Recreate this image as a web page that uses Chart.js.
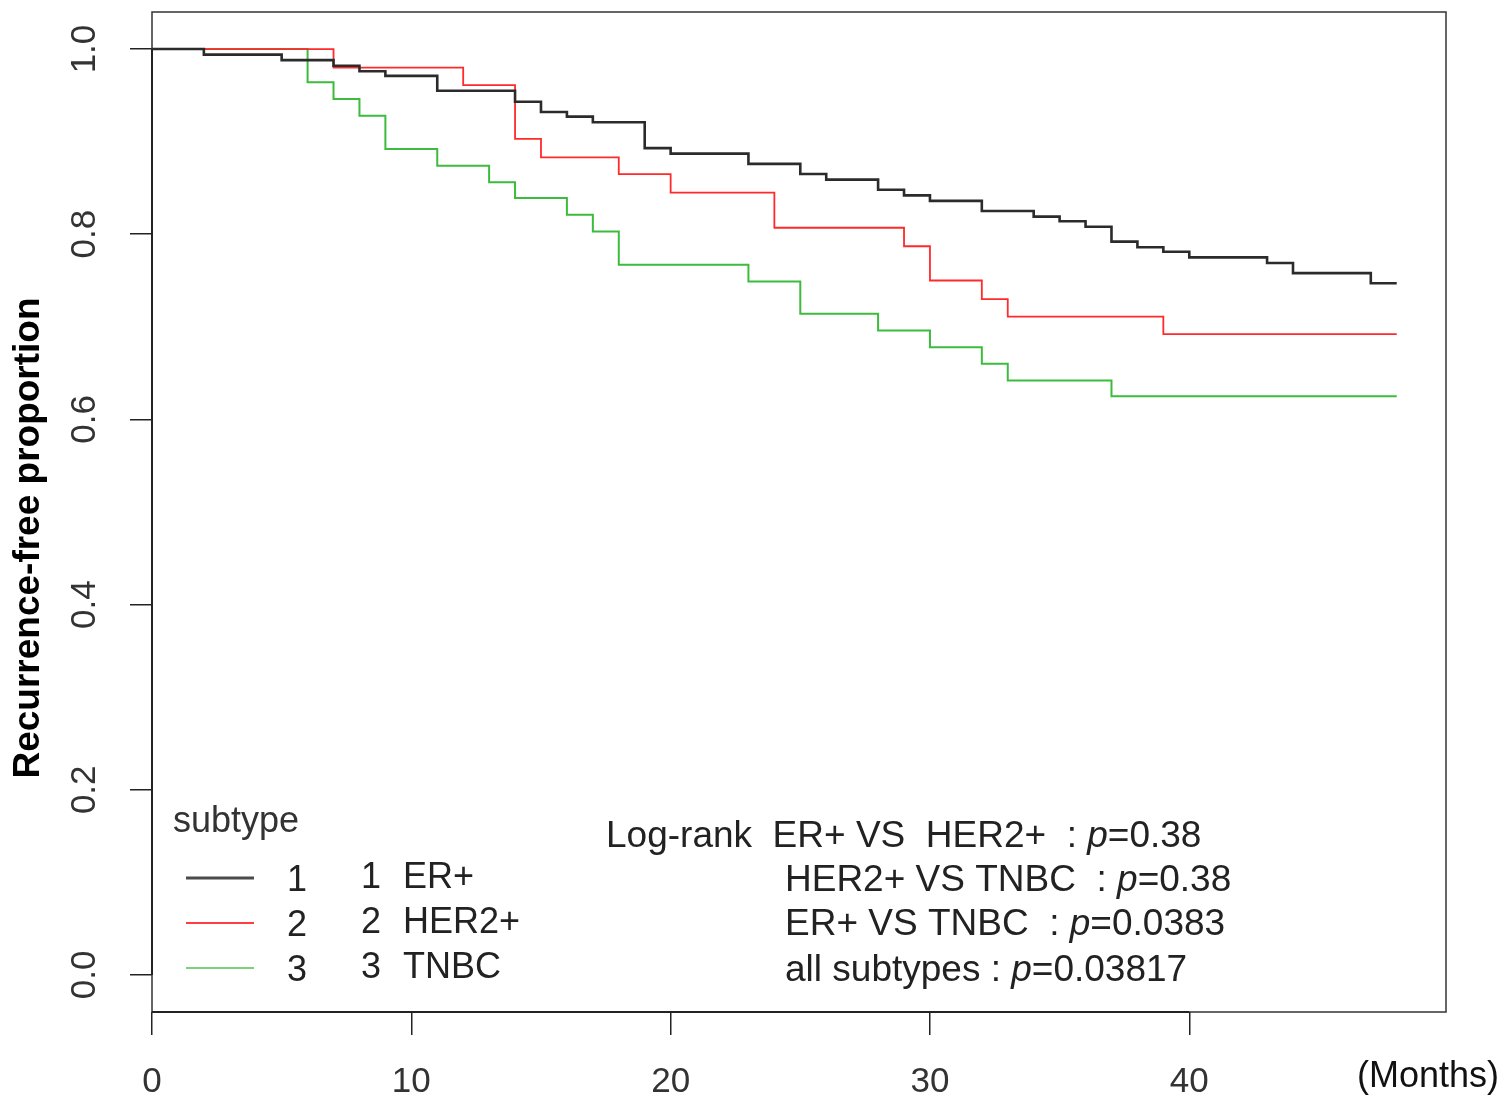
<!DOCTYPE html>
<html>
<head>
<meta charset="utf-8">
<script src="https://cdn.jsdelivr.net/npm/chart.js@4.4.1/dist/chart.umd.min.js"></script>
<style>
  html, body { margin: 0; padding: 0; background: #ffffff; }
  #wrap { width: 1505px; height: 1097px; position: relative; }
</style>
</head>
<body>
<div id="wrap"><canvas id="c" width="1505" height="1097"></canvas></div>
<script>
// ---- Data (Kaplan-Meier steps) ----
const erTimes   = [0, 2, 5, 7, 8, 9, 11, 14, 15, 16, 17, 19, 20, 23, 25, 26, 28, 29, 30, 32, 34, 35, 36, 37, 38, 39, 40, 43, 44, 47, 48];
const erValues  = [1.0, 0.994, 0.988, 0.982, 0.976, 0.971, 0.955, 0.943, 0.932, 0.927, 0.921, 0.893, 0.887, 0.876, 0.865, 0.859, 0.848, 0.842, 0.836, 0.825, 0.819, 0.814, 0.808, 0.792, 0.786, 0.781, 0.775, 0.769, 0.758, 0.747, 0.747];

const herTimes  = [0, 7, 12, 14, 15, 18, 20, 24, 29, 30, 32, 33, 39, 48];
const herValues = [1.0, 0.980, 0.961, 0.903, 0.883, 0.865, 0.845, 0.807, 0.787, 0.750, 0.730, 0.711, 0.692, 0.692];

const tnTimes   = [0, 6, 7, 8, 9, 11, 13, 14, 16, 17, 18, 23, 25, 28, 30, 32, 33, 37, 48];
const tnValues  = [1.0, 0.964, 0.946, 0.928, 0.892, 0.874, 0.856, 0.839, 0.821, 0.803, 0.767, 0.749, 0.714, 0.696, 0.678, 0.660, 0.642, 0.625, 0.625];

const seriesNames = ['1  ER+', '2  HER2+', '3  TNBC'];
const xTicks = [0, 10, 20, 30, 40];
const yTicks = [0.0, 0.2, 0.4, 0.6, 0.8, 1.0];
const yTickLabels = ['0.0', '0.2', '0.4', '0.6', '0.8', '1.0'];
const statLines = [
  ['Log-rank  ER+ VS  HER2+  : ', '0.38'],
  ['HER2+ VS TNBC  : ', '0.38'],
  ['ER+ VS TNBC  : ', '0.0383'],
  ['all subtypes : ', '0.03817']
];

const colors = ['#2b2b2b', '#ff2a2a', '#3dbb3d'];
const FONT = "'Liberation Sans', Arial, Helvetica, sans-serif";

function pts(t, v) { return t.map((x, i) => ({ x: x, y: v[i] })); }

const annot = {
  id: 'annot',
  afterDraw(chart) {
    const ctx = chart.ctx;
    const a = chart.chartArea;
    const xs = chart.scales.x, ys = chart.scales.y;
    ctx.save();
    // box
    ctx.strokeStyle = '#333';
    ctx.lineWidth = 1.5;
    ctx.strokeRect(a.left, a.top, a.right - a.left, a.bottom - a.top);
    // axis lines (first to last tick)
    ctx.strokeStyle = '#222';
    ctx.lineWidth = 2;
    ctx.beginPath();
    ctx.moveTo(xs.getPixelForValue(xTicks[0]), a.bottom);
    ctx.lineTo(xs.getPixelForValue(xTicks[xTicks.length - 1]), a.bottom);
    ctx.moveTo(a.left, ys.getPixelForValue(yTicks[0]));
    ctx.lineTo(a.left, ys.getPixelForValue(yTicks[yTicks.length - 1]));
    ctx.stroke();

    // y title
    ctx.fillStyle = '#000';
    ctx.font = 'bold 37px ' + FONT;
    ctx.textAlign = 'center';
    ctx.textBaseline = 'middle';
    ctx.translate(29, 538);
    ctx.rotate(-Math.PI / 2);
    ctx.fillText('Recurrence-free proportion', 0, 0);
    ctx.setTransform(1, 0, 0, 1, 0, 0);

    // (Months)
    ctx.font = '36px ' + FONT;
    ctx.fillStyle = '#111';
    ctx.textAlign = 'center';
    ctx.fillText('(Months)', 1428, 1077);

    // legend
    ctx.fillStyle = '#333';
    ctx.textAlign = 'left';
    ctx.font = '36px ' + FONT;
    ctx.fillText('subtype', 173, 822);
    const rowsY = [878, 923, 968];
    const lw = [3, 2, 1.5];
    for (let i = 0; i < 3; i++) {
      ctx.strokeStyle = colors[i];
      ctx.globalAlpha = i === 0 ? 0.85 : 0.9;
      ctx.lineWidth = lw[i];
      ctx.beginPath();
      ctx.moveTo(186, rowsY[i]);
      ctx.lineTo(254, rowsY[i]);
      ctx.stroke();
      ctx.globalAlpha = 1;
      ctx.fillStyle = '#222';
      ctx.textAlign = 'center';
      ctx.fillText(String(i + 1), 297, rowsY[i] + 3);
      ctx.fillText(String(i + 1), 371, rowsY[i]);
      ctx.textAlign = 'left';
      ctx.fillText(seriesNames[i].split('  ')[1], 403, rowsY[i]);
    }

    // stats
    const statX = [606, 785, 785, 785];
    const statY = [837, 881, 925, 971];
    for (let i = 0; i < statLines.length; i++) {
      let x = statX[i];
      ctx.font = '37px ' + FONT;
      ctx.fillStyle = '#222';
      ctx.textAlign = 'left';
      ctx.fillText(statLines[i][0], x, statY[i]);
      x += ctx.measureText(statLines[i][0]).width;
      ctx.font = 'italic 37px ' + FONT;
      ctx.fillText('p', x, statY[i]);
      x += ctx.measureText('p').width;
      ctx.font = '37px ' + FONT;
      ctx.fillText('=' + statLines[i][1], x, statY[i]);
    }
    ctx.restore();
  }
};

const ds = [
  { label: seriesNames[0], data: pts(erTimes, erValues), borderColor: colors[0], borderWidth: 2.6 },
  { label: seriesNames[1], data: pts(herTimes, herValues), borderColor: colors[1], borderWidth: 1.8 },
  { label: seriesNames[2], data: pts(tnTimes, tnValues), borderColor: colors[2], borderWidth: 2 }
].map(d => Object.assign(d, { stepped: 'before', pointRadius: 0, fill: false, tension: 0 }));

new Chart(document.getElementById('c'), {
  type: 'line',
  data: { datasets: ds },
  options: {
    responsive: false,
    animation: false,
    events: [],
    layout: { padding: { left: 0, right: 59, top: 12, bottom: 0 } },
    plugins: { legend: { display: false }, tooltip: { enabled: false } },
    scales: {
      x: {
        type: 'linear',
        min: 0,
        max: 49.9,
        afterBuildTicks: s => { s.ticks = xTicks.map(v => ({ value: v })); },
        afterFit: s => { s.height = 85; s.paddingLeft = 0; s.paddingRight = 0; },
        grid: { display: true, drawOnChartArea: false, drawTicks: true, tickLength: 23, color: '#222', lineWidth: 1.5 },
        border: { display: false },
        ticks: { font: { family: FONT, size: 35 }, color: '#333', padding: 26, maxRotation: 0, autoSkip: false, callback: v => String(v) }
      },
      y: {
        type: 'linear',
        min: -0.04,
        max: 1.04,
        afterBuildTicks: s => { s.ticks = yTicks.map(v => ({ value: v })); },
        afterFit: s => { s.width = 152; s.paddingTop = 0; s.paddingBottom = 0; },
        grid: { display: true, drawOnChartArea: false, drawTicks: true, tickLength: 22, color: '#222', lineWidth: 1.5 },
        border: { display: false },
        ticks: {
          font: { family: FONT, size: 35 }, color: '#333', padding: 20, minRotation: 90, maxRotation: 90,
          crossAlign: 'center', autoSkip: false,
          callback: (v) => { const i = yTicks.findIndex(t => Math.abs(t - v) < 1e-9); return i >= 0 ? yTickLabels[i] : ''; }
        }
      }
    }
  },
  plugins: [annot]
});
</script>
</body>
</html>
